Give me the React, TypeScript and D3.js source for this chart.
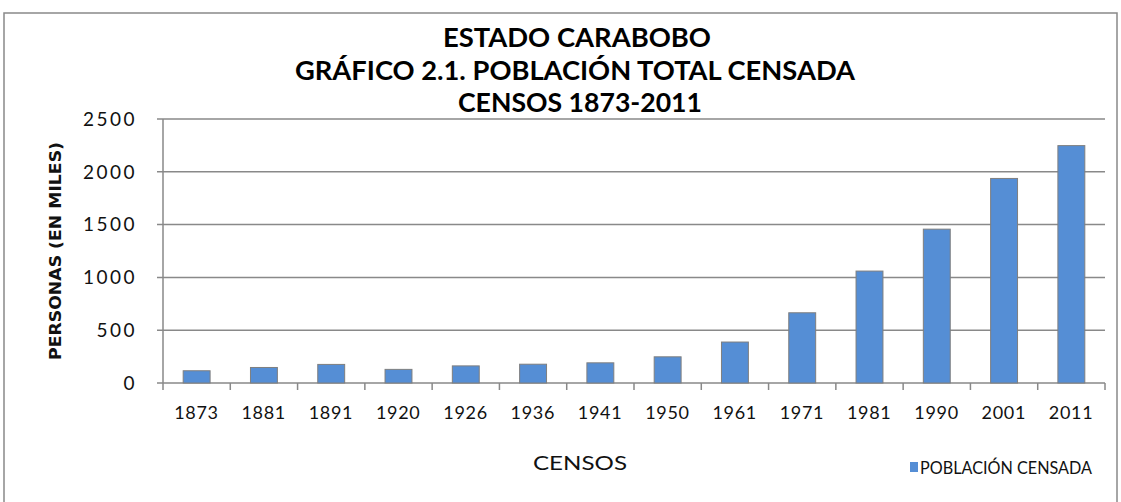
import React from 'react'
import * as d3 from 'd3'

// censos y poblacion (miles de personas)
const censos = ['1873', '1881', '1891', '1920', '1926', '1936', '1941', '1950', '1961', '1971', '1981', '1990', '2001', '2011']
const poblacion = [116, 147, 176, 129, 162, 178, 191, 248, 388, 665, 1060, 1457, 1937, 2248]
const yTicks = [0, 500, 1000, 1500, 2000, 2500]
const titulo = ['ESTADO CARABOBO', 'GRÁFICO 2.1. POBLACIÓN TOTAL CENSADA', 'CENSOS 1873-2011']
const serieNombre = 'POBLACIÓN CENSADA'

export default function App() {
    const W = 1121
    const H = 502
    const plot = {left: 163, right: 1105, top: 119, bottom: 383}

    const x = d3.scaleBand()
        .domain(censos)
        .range([plot.left, plot.right])
        .padding(0)

    const y = d3.scaleLinear()
        .domain([0, 2500])
        .range([plot.bottom, plot.top])

    const barW = x.bandwidth() * 0.4
    const grid = '#898989'
    const light = 'Lato, "Open Sans", sans-serif'

    // anchos y centros de cada linea del titulo
    const titleWidths = [268, 560, 244]
    const titleCenters = [577, 575, 580]

    return (
        <svg width={W} height={H} style={{position: 'absolute', left: 0, top: 0, background: '#fff'}}>
            <rect x={4} y={13} width={1113} height={520} fill="#fff" stroke={grid} strokeWidth={1.5} />

            {/* titulo */}
            {titulo.map((t, i) => (
                <text key={t} x={titleCenters[i]} y={47 + i * 32.5} textAnchor="middle"
                    fontFamily={light} fontWeight="bold" fontSize={26}
                    textLength={titleWidths[i]} lengthAdjust="spacingAndGlyphs" fill="#000">{t}</text>
            ))}

            {/* rejilla */}
            {yTicks.map(v => (
                <g key={v}>
                    <line x1={plot.left - 6} x2={plot.right} y1={y(v)} y2={y(v)} stroke={grid} strokeWidth={1.5} />
                    <text x={137} y={y(v)} dy="0.36em" textAnchor="end"
                        fontFamily={light} fontSize={19} letterSpacing={2.5}
                        fill="#111">{v}</text>
                </g>
            ))}
            <line x1={plot.left} x2={plot.left} y1={plot.top} y2={plot.bottom} stroke={grid} strokeWidth={1.5} />

            {/* barras */}
            {censos.map((c, i) => (
                <rect key={c}
                    x={x(c)! + (x.bandwidth() - barW) / 2}
                    y={y(poblacion[i])}
                    width={barW}
                    height={y(0) - y(poblacion[i])}
                    fill="#558ED5" stroke="#7F7F7F" strokeWidth={1} />
            ))}

            {/* eje x */}
            {[...censos.map(c => x(c)!), plot.right].map((px, i) => (
                <line key={i} x1={px} x2={px} y1={plot.bottom} y2={plot.bottom + 7} stroke={grid} strokeWidth={1.5} />
            ))}
            {censos.map(c => (
                <text key={c} x={x(c)! + x.bandwidth() / 2} y={419} textAnchor="middle"
                    fontFamily={light} fontSize={18} letterSpacing={1.2}
                    textLength={45} lengthAdjust="spacing" fill="#111">{c}</text>
            ))}

            <text x={580} y={470} textAnchor="middle" fontFamily={light} fontSize={20}
                textLength={94} lengthAdjust="spacingAndGlyphs" fill="#111">CENSOS</text>

            <text transform={`translate(61, 251) rotate(-90)`} textAnchor="middle"
                fontFamily="DejaVu Sans, sans-serif" fontWeight="bold" fontSize={15}
                textLength={218} lengthAdjust="spacingAndGlyphs" fill="#111">PERSONAS (EN MILES)</text>

            {/* leyenda */}
            <rect x={910} y={462} width={8} height={10} fill="#558ED5" />
            <text x={920} y={474} fontFamily={light} fontSize={17}
                textLength={172} lengthAdjust="spacingAndGlyphs" fill="#111">{serieNombre}</text>
        </svg>
    )
}
